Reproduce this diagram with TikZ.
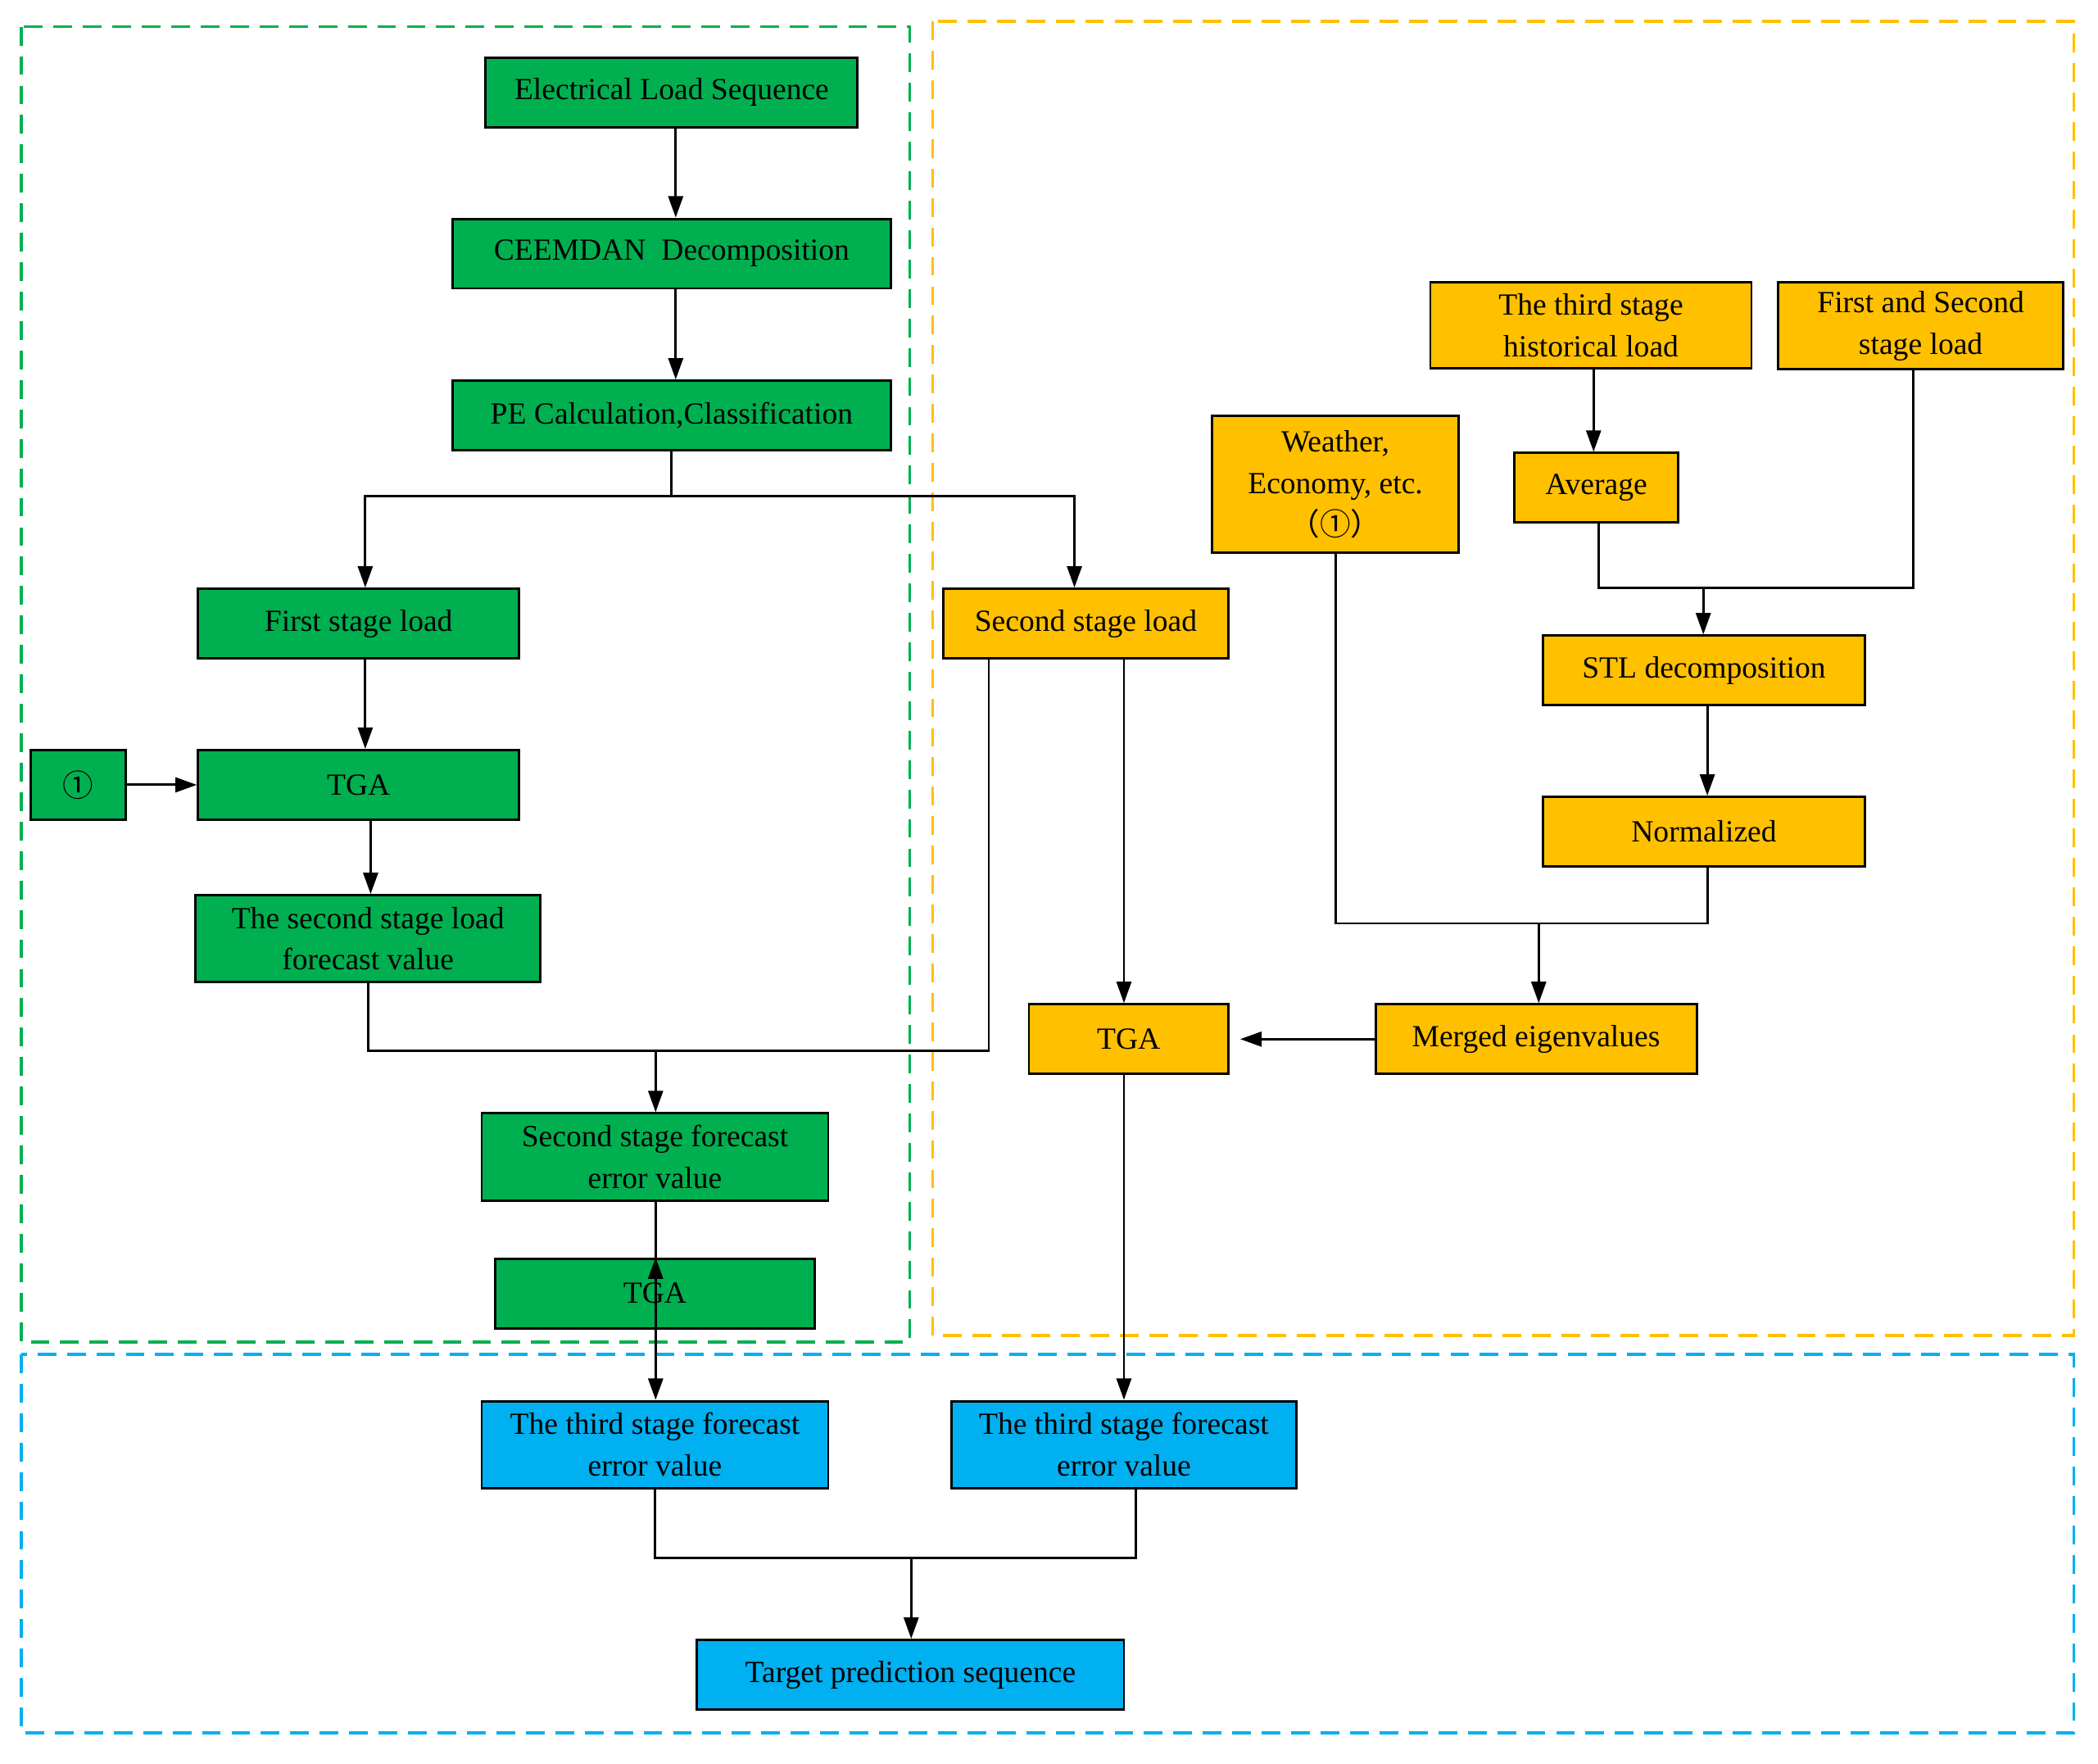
\documentclass[tikz,border=0pt]{standalone}
\usepackage{fontspec}
\setmainfont{Liberation Serif}
\newfontfamily\cjk{Noto Sans CJK SC}
\usetikzlibrary{arrows.meta}
\definecolor{gr}{HTML}{00B050}
\definecolor{og}{HTML}{FFC000}
\definecolor{bl}{HTML}{00B0F0}
\begin{document}
\begin{tikzpicture}[x=0.5pt,y=-0.5pt,
  box/.style={draw=black,line width=0.9pt,fill=#1,align=center,inner sep=0pt,font=\fontsize{11.5}{15.5}\selectfont},
  frame/.style={draw=#1,line width=1.1pt,dash pattern=on 7pt off 4pt},
  ar/.style={-{Triangle[length=8pt,width=5.5pt]},line width=0.9pt},
  ln/.style={line width=0.9pt}]
\useasboundingbox (0,0) rectangle (1568,1318);
\draw[frame=gr] (16,20) rectangle (680,1003);
\draw[frame=og] (697,16) rectangle (1550,998);
\draw[frame=bl] (16,1012) rectangle (1550,1295);
% green
\node[box=gr,minimum width=139pt,minimum height=26pt] (els) at (502,69) {Electrical Load Sequence};
\node[box=gr,minimum width=164pt,minimum height=26pt] (cee) at (502,189.5) {CEEMDAN~ Decomposition};
\node[box=gr,minimum width=164pt,minimum height=26pt] (pe) at (502,310.5) {PE Calculation,Classification};
\node[box=gr,minimum width=120pt,minimum height=26pt] (fsl) at (268,466) {First stage load};
\node[box=gr,minimum width=35.5pt,minimum height=26pt] (c1) at (58.5,586.5) {\cjk ①};
\node[box=gr,minimum width=120pt,minimum height=26pt] (tga1) at (268,586.5) {TGA};
\node[box=gr,minimum width=129pt,minimum height=32.5pt] (sfv) at (275,701.5) {The second stage load\\forecast value};
\node[box=gr,minimum width=129.5pt,minimum height=32.5pt] (sfe) at (489.5,864.5) {Second stage forecast\\error value};
\node[box=gr,minimum width=119.5pt,minimum height=26pt] (tga2) at (489.5,966.5) {TGA};
% blue
\node[box=bl,minimum width=129.5pt,minimum height=32.5pt] (t1) at (489.5,1079.5) {The third stage forecast\\error value};
\node[box=bl,minimum width=129pt,minimum height=32.5pt] (t2) at (840,1079.5) {The third stage forecast\\error value};
\node[box=bl,minimum width=159.5pt,minimum height=26pt] (tgt) at (680.5,1251.5) {Target prediction sequence};
% orange
\node[box=og,minimum width=106.5pt,minimum height=26pt] (ssl) at (811.5,466) {Second stage load};
\node[box=og,minimum width=92pt,minimum height=51pt] (wea) at (998,362) {Weather,\\Economy, etc.\\{\cjk （①）}};
\node[box=og,minimum width=120pt,minimum height=32pt] (hist) at (1189,243) {The third stage\\historical load};
\node[box=og,minimum width=106.5pt,minimum height=32.5pt] (fas) at (1435.5,243.5) {First and Second\\stage load};
\node[box=og,minimum width=61pt,minimum height=26pt] (avg) at (1193,364.5) {Average};
\node[box=og,minimum width=120.5pt,minimum height=26pt] (stl) at (1273.5,501) {STL decomposition};
\node[box=og,minimum width=120.5pt,minimum height=26pt] (nor) at (1273.5,621.5) {Normalized};
\node[box=og,minimum width=120pt,minimum height=26pt] (mer) at (1148,776.5) {Merged eigenvalues};
\node[box=og,minimum width=74.5pt,minimum height=26pt] (tga3) at (843.5,776.5) {TGA};
\coordinate (j1) at (502,371);
\coordinate (j2) at (490,785);
\coordinate (j3) at (1150,690);
\coordinate (j4) at (1273,439);
\coordinate (j5) at (681,1164);
% edges
\draw[ar] (els.south -| 505,0) -- (cee.north -| 505,0);
\draw[ar] (cee.south -| 505,0) -- (pe.north -| 505,0);
\draw[ln] (pe.south) -- (j1);
\draw[ar] (j1) -| (fsl.north -| 273,0);
\draw[ar] (j1) -| (ssl.north -| 803,0);
\draw[ar] (fsl.south -| 273,0) -- (tga1.north -| 273,0);
\draw[ar] (c1) -- (tga1);
\draw[ar] (tga1.south -| 277,0) -- (sfv.north -| 277,0);
\draw[ln] (sfv.south) |- (j2);
\draw[ln] (ssl.south -| 739,0) |- (j2);
\draw[ar] (j2) -- (sfe.north -| 490,0);
\draw[ar] (sfe.south -| 490,0) -- (tga2.south -| 490,0) ++(0,-51) -- (tga2.north -| 490,0);
\draw[ar] (tga2.south -| 490,0) -- (t1.north -| 490,0);
\draw[ar] (ssl.south -| 840,0) -- (tga3.north -| 840,0);
\draw[ar] (tga3.south -| 840,0) -- (t2.north -| 840,0);
\draw[ar] (mer) -- ([xshift=4pt]tga3.east);
\draw[ln] (nor.south -| 1276,0) |- (j3);
\draw[ln] (wea.south) |- (j3);
\draw[ar] (j3) -- (mer.north -| 1150,0);
\draw[ar] (hist.south -| 1191,0) -- (avg.north -| 1191,0);
\draw[ln] (avg.south -| 1195,0) |- (j4);
\draw[ln] (fas.south -| 1430,0) |- (j4);
\draw[ar] (j4) -- (stl.north -| 1273,0);
\draw[ar] (stl.south -| 1276,0) -- (nor.north -| 1276,0);
\draw[ln] (t1.south) |- (j5);
\draw[ln] (t2.south -| 849,0) |- (j5);
\draw[ar] (j5) -- (tgt.north -| 681,0);
\end{tikzpicture}
\end{document}
